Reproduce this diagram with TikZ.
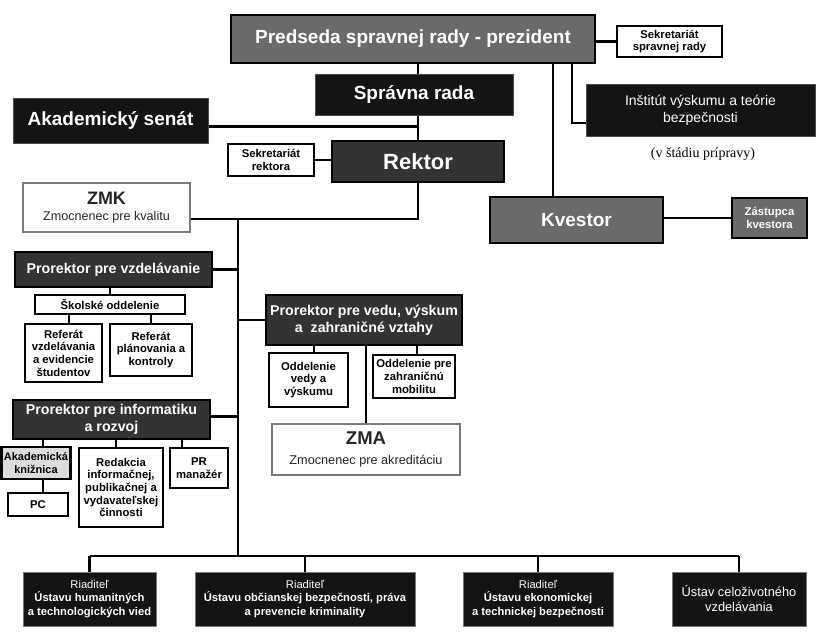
\documentclass[tikz,border=0pt]{standalone}
\usepackage{fontspec}
\setmainfont{Liberation Sans}
\newfontfamily\seriffont{Liberation Serif}
\definecolor{midgray}{HTML}{6A6A6A}
\definecolor{darkgray2}{HTML}{333333}
\definecolor{nearblack}{HTML}{141414}
\definecolor{lightgray2}{HTML}{DCDCDC}
\definecolor{bordergray}{HTML}{7A7A7A}
\begin{document}
\begin{tikzpicture}[x=1pt,y=-1pt,
  box/.style={rectangle, inner sep=0pt, align=center},
  graybox/.style={box, fill=midgray, draw=black, line width=2.5pt, text=white},
  darkbox/.style={box, fill=darkgray2, draw=black, line width=2.5pt, text=white},
  blackbox/.style={box, fill=nearblack, draw=black!70, line width=1pt, text=white},
  whitebox/.style={box, fill=white, draw=black, line width=2.5pt, text=black},
  zbox/.style={box, fill=white, draw=bordergray, line width=2.5pt, text=black!85},
  ubox/.style={box, fill=nearblack, draw=bordergray, line width=0.8pt, text=white,
     font=\fontsize{11.2}{13.2}\selectfont},
  bigfont/.style={font=\fontsize{19}{22}\selectfont\bfseries},
  profont/.style={font=\fontsize{14.2}{17}\selectfont\bfseries},
  smallfont/.style={font=\fontsize{11.3}{12.7}\selectfont\bfseries},
  conn/.style={line width=2.2pt, black}]
\useasboundingbox (0,0) rectangle (817,641);

% top part
\node[graybox, bigfont, minimum width=364pt, minimum height=48pt] (pred) at (413,39) {Predseda spravnej rady - prezident};
\node[whitebox, smallfont, minimum width=105pt, minimum height=31pt] (sekS) at (669.5,41.5) {Sekretariát\\spravnej rady};
\node[blackbox, bigfont, minimum width=198pt, minimum height=41pt] (sprav) at (414,94.5) {Správna rada};
\node[blackbox, bigfont, minimum width=195pt, minimum height=45pt] (akad) at (110.5,120.5) {Akademický senát};
\node[darkbox, font=\fontsize{22}{25}\selectfont\bfseries, minimum width=172pt, minimum height=41pt] (rektor) at (418,161.5) {Rektor};
\node[whitebox, smallfont, minimum width=86pt, minimum height=32pt] (sekR) at (271,160) {Sekretariát\\rektora};
\node[zbox, font=\fontsize{12.6}{16.5}\selectfont, minimum width=167pt, minimum height=49pt] (zmk) at (106.5,207.5) {{\fontsize{18}{20}\selectfont\bfseries ZMK}\\Zmocnenec pre kvalitu};
\node[blackbox, font=\fontsize{14}{17}\selectfont, minimum width=229pt, minimum height=52pt] (inst) at (700.5,110) {Inštitút výskumu a teórie\\bezpečnosti};
\node[box, font=\seriffont\fontsize{14}{16}\selectfont] (prip) at (703,154) {(v štádiu prípravy)};
\node[graybox, bigfont, minimum width=173pt, minimum height=46pt] (kvest) at (576.5,220) {Kvestor};
\node[graybox, smallfont, minimum width=75pt, minimum height=40pt] (zast) at (769.5,218) {Zástupca\\kvestora};

% left branch
\node[darkbox, profont, minimum width=197pt, minimum height=35pt] (pvzd) at (113.5,269.5) {Prorektor pre vzdelávanie};
\node[whitebox, smallfont, minimum width=150pt, minimum height=19pt] (skol) at (110,304.5) {Školské oddelenie};
\node[whitebox, smallfont, minimum width=77pt, minimum height=58pt] (refv) at (63.5,353) {Referát\\vzdelávania\\a evidencie\\študentov};
\node[whitebox, smallfont, minimum width=82pt, minimum height=52pt] (refp) at (151,350) {Referát\\plánovania a\\kontroly};

\node[darkbox, profont, minimum width=196pt, minimum height=50pt] (pved) at (364,320) {Prorektor pre vedu, výskum\\a\ \ zahraničné vztahy};
\node[whitebox, smallfont, minimum width=79pt, minimum height=54pt] (odv) at (308.5,380) {Oddelenie\\vedy a\\výskumu};
\node[whitebox, smallfont, minimum width=82pt, minimum height=43pt] (odz) at (414,376.5) {Oddelenie pre\\zahraničnú\\mobilitu};
\node[zbox, font=\fontsize{12.7}{19.5}\selectfont, minimum width=188pt, minimum height=51pt] (zma) at (366,449.5) {{\fontsize{18.5}{20}\selectfont\bfseries ZMA}\\Zmocnenec pre akreditáciu};

\node[darkbox, profont, minimum width=197pt, minimum height=39pt] (pinf) at (111.5,419.5) {Prorektor pre informatiku\\a rozvoj};
\node[box, fill=lightgray2, draw=black, line width=2.5pt, font=\fontsize{11}{12.7}\selectfont\bfseries, minimum width=69pt, minimum height=32pt] (kniz) at (36,463) {Akademická\\knižnica};
\node[whitebox, smallfont, minimum width=60pt, minimum height=23pt] (pc) at (38,504.5) {PC};
\node[whitebox, smallfont, minimum width=84pt, minimum height=79pt] (red) at (121,487.5) {Redakcia\\informačnej,\\publikačnej a\\vydavateľskej\\činnosti};
\node[whitebox, smallfont, minimum width=58pt, minimum height=40pt] (prm) at (199,468) {PR\\manažér};

% bottom institutes
\node[ubox, minimum width=133pt, minimum height=54pt] (u1) at (89.5,599) {Riaditeľ\\\textbf{Ústavu humanitných}\\\textbf{a technologických vied}};
\node[ubox, minimum width=220pt, minimum height=54pt] (u2) at (305,599) {Riaditeľ\\\textbf{Ústavu občianskej bezpečnosti, práva}\\\textbf{a prevencie kriminality}};
\node[ubox, minimum width=150pt, minimum height=54pt] (u3) at (538,599) {Riaditeľ\\\textbf{Ústavu ekonomickej}\\\textbf{a technickej bezpečnosti}};
\node[ubox, font=\fontsize{12.8}{15}\selectfont, minimum width=134pt, minimum height=54pt] (u4) at (739,599) {Ústav celoživotného\\vzdelávania};

% helper coordinates
\coordinate (j1) at (418,219);
\coordinate (j2) at (238,219);
\coordinate (bus) at (238,556);
\coordinate (pk) at (553,0);
\coordinate (pi) at (572,123);

% connectors
\draw[conn] (pred.south -| rektor.north) -- (sprav.north -| rektor.north);
\draw[conn] (sprav.south -| rektor.north) -- (rektor.north);
\draw[conn] ([yshift=-6pt]akad.east) -- ([yshift=-6pt]akad.east -| rektor.north);
\draw[conn] (sekS.west) -- (sekS.west -| pred.east);
\draw[conn] (sekR.east) -- (sekR.east -| rektor.west);
\draw[conn] (rektor.south) -- (j1) -- (j1 -| zmk.east);
\draw[conn] (j2) -- (bus);
\draw[conn] (pred.south -| pk) -- (kvest.north -| pk);
\draw[conn] (pred.south -| pi) -- (pi) -- (pi -| inst.west);
\draw[conn] (kvest.east |- zast.west) -- (zast.west);

\draw[conn] (pvzd.east) -- (pvzd.east -| j2);
\draw[conn] (skol.north) -- (skol.north |- pvzd.south);
\draw[conn] ([xshift=5.5pt]refv.north) -- ([xshift=5.5pt]refv.north |- skol.south);
\draw[conn] (refp.north) -- (refp.north |- skol.south);

\draw[conn] (pved.west) -- (pved.west -| j2);
\draw[conn] ([xshift=5.5pt]odv.north) -- ([xshift=5.5pt]odv.north |- pved.south);
\draw[conn] ([xshift=3pt]odz.north) -- ([xshift=3pt]odz.north |- pved.south);
\draw[conn] (zma.north) -- (zma.north |- pved.south);

\draw[conn] ([yshift=3pt]pinf.east) -- ([yshift=3pt]pinf.east -| j2);
\draw[conn] ([xshift=7pt]kniz.north) -- ([xshift=7pt]kniz.north |- pinf.south);
\draw[conn] ([xshift=-5pt]red.north) -- ([xshift=-5pt]red.north |- pinf.south);
\draw[conn] ([xshift=-17pt]prm.north) -- ([xshift=-17pt]prm.north |- pinf.south);
\draw[conn] ([xshift=7pt]kniz.south) -- ([xshift=7pt]kniz.south |- pc.north);

\draw[conn] (bus -| u1.north) -- (bus -| u4.north);
\draw[conn] (u1.north) -- (u1.north |- bus);
\draw[conn] (u2.north) -- (u2.north |- bus);
\draw[conn] (u3.north) -- (u3.north |- bus);
\draw[conn] (u4.north) -- (u4.north |- bus);
\end{tikzpicture}
\end{document}
